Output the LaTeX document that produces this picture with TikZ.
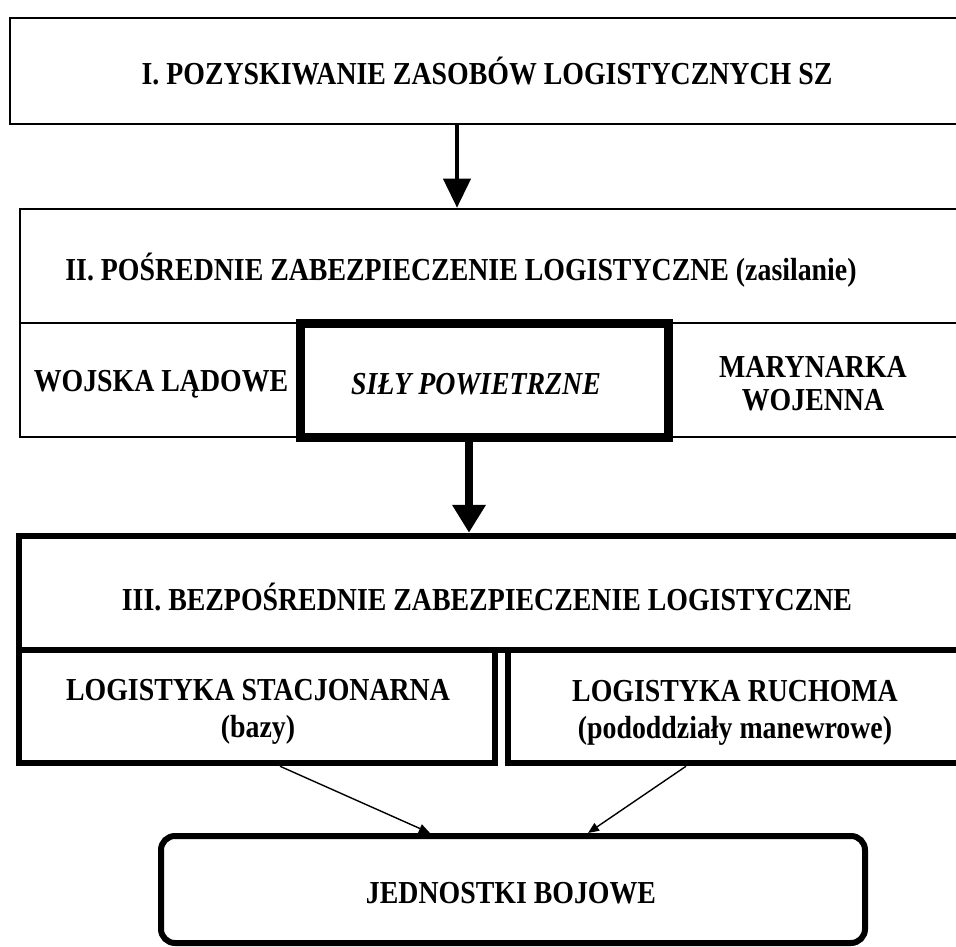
\documentclass[tikz,border=0pt]{standalone}
\usepackage{fontspec}
\setmainfont[FakeStretch=0.87]{Liberation Serif}
\usetikzlibrary{arrows.meta,calc}

\begin{document}
\begin{tikzpicture}[x=1pt, y=-1pt,
  frame/.style={draw, rectangle, inner sep=0pt},
  lbl/.style={font=\fontsize{32}{35}\selectfont\bfseries, align=center, inner sep=0pt},
  bigarrow/.style={line width=#1, -{Triangle[length=29pt,width=27pt]}},
  smallarrow/.style={line width=1.4pt, -{Triangle[length=11pt,width=9pt]}}]

\useasboundingbox (0,0) rectangle (956,947);

% === I. TOP ===
\node[frame, line width=2.5pt, minimum width=954pt, minimum height=106pt, lbl] (itop) at (487,71) {I. POZYSKIWANIE ZASOBÓW LOGISTYCZNYCH SZ};

% === II. INDIRECT ===
\node[frame, line width=2.5pt, minimum width=950pt, minimum height=114pt] (iihead) at (495,266) {};
\node[frame, line width=2.5pt, minimum width=950pt, minimum height=114pt] (iirow) at (495,380) {};
\node[lbl] (iititle) at (461,270) {II. POŚREDNIE ZABEZPIECZENIE LOGISTYCZNE (zasilanie)};
\node[lbl] (wl) at (161,384) {WOJSKA LĄDOWE};
\node[lbl, font=\fontsize{32}{33}\selectfont\bfseries] (mw) at (813,384) {MARYNARKA\\WOJENNA};
\node[frame, line width=9pt, minimum width=368pt, minimum height=114pt] (sily) at (484.75,380) {};
\node[lbl, font=\fontsize{32}{35}\selectfont\bfseries\itshape] (sp) at (476,384) {SIŁY POWIETRZNE};

\draw[bigarrow=4pt] ($(itop.south)+(-30,0)$) -- ($(iihead.north)+(-38,0)$);

% === III. DIRECT ===
\node[frame, line width=6.5pt, minimum width=951pt, minimum height=114pt] (iiihead) at (494.5,593) {};
\node[lbl] (iiititle) at (487,597) {III. BEZPOŚREDNIE ZABEZPIECZENIE LOGISTYCZNE};
\node[frame, line width=6.5pt, minimum width=476pt, minimum height=113pt] (llow) at (257,706.5) {};
\node[lbl, font=\fontsize{32}{37}\selectfont\bfseries] (ltext) at (258,712) {LOGISTYKA STACJONARNA\\(bazy)};
\node[frame, line width=6.5pt, minimum width=462pt, minimum height=113pt] (rlow) at (739,706.5) {};
\node[lbl, font=\fontsize{32}{37}\selectfont\bfseries] (rtext) at (735,713) {LOGISTYKA RUCHOMA\\(pododdziały manewrowe)};

\draw[bigarrow=8pt, -{Triangle[length=28pt,width=32pt]}] ($(sily.south)+(-15.75,0)$) -- ($(iiihead.north)+(-25.5,0)$);

% === COMBAT UNITS ===
\node[frame, line width=6pt, rounded corners=14pt, minimum width=704pt, minimum height=107pt] (jb) at (513,889.5) {};
\node[lbl] (jbtext) at (511,893) {JEDNOSTKI BOJOWE};

\draw[smallarrow] ($(llow.south)+(23,0)$) -- ($(jb.north)+(-83,0)$);
\draw[smallarrow] ($(rlow.south)+(-53,0)$) -- ($(jb.north)+(75,0)$);

\end{tikzpicture}
\end{document}
